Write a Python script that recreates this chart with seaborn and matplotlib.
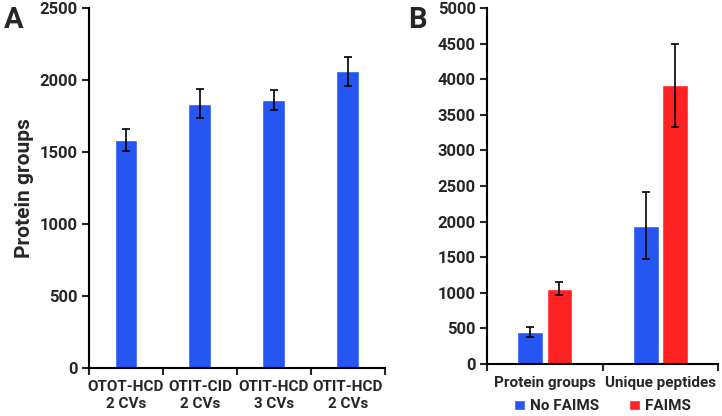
import pandas as pd
import matplotlib.pyplot as plt
import seaborn as sns

# Panel A data
methods = ['OTOT-HCD\n2 CVs', 'OTIT-CID\n2 CVs', 'OTIT-HCD\n3 CVs', 'OTIT-HCD\n2 CVs']
method_groups = [1585, 1835, 1862, 2060]
method_err = [78, 102, 70, 100]

# Panel B data
metrics = ['Protein groups', 'Unique peptides']
conditions = ['No FAIMS', 'FAIMS']
no_faims = [455, 1940]
no_faims_err = [70, 470]
faims = [1060, 3915]
faims_err = [85, 580]

BLUE = '#2656f2'
RED = '#ff2222'

sns.set_style('white')
plt.rcParams['font.family'] = ['Roboto', 'DejaVu Sans']
plt.rcParams['font.weight'] = 'bold'

fig = plt.figure(figsize=(7.22, 4.16), dpi=100)
axA = fig.add_axes([0.1233, 0.1154, 0.4097, 0.8654])
axB = fig.add_axes([0.6745, 0.125, 0.3200, 0.8558])


def style_axis(ax, ncat):
    sns.despine(ax=ax)
    for s in ['left', 'bottom']:
        ax.spines[s].set_linewidth(1.5)
        ax.spines[s].set_color('black')
    ax.set_xlim(-0.5, ncat - 0.5)
    ax.tick_params(axis='y', direction='out', length=5, width=1.5, left=True,
                   labelsize=12, pad=3)
    ax.tick_params(axis='x', which='major', length=0, labelsize=11, pad=9)
    ax.set_xticks([i - 0.5 for i in range(ncat + 1)], minor=True)
    ax.tick_params(axis='x', which='minor', direction='out', length=5,
                   width=1.5, bottom=True)
    for lab in ax.get_xticklabels() + ax.get_yticklabels():
        lab.set_fontweight('bold')
    ax.set_xlabel('')


# Panel A
dfA = pd.DataFrame({'method': methods, 'groups': method_groups})
sns.barplot(data=dfA, x='method', y='groups', color=BLUE, saturation=1,
            width=0.31, errorbar=None, ax=axA)
xs = [p.get_x() + p.get_width() / 2 for p in axA.patches]
axA.errorbar(xs, method_groups, yerr=method_err, fmt='none', ecolor='black',
             elinewidth=1.2, capsize=3, capthick=1.2)
axA.set_ylim(0, 2500)
axA.set_yticks(range(0, 2501, 500))
style_axis(axA, len(methods))
for lab in axA.get_xticklabels():
    lab.set_linespacing(1.2)
axA.set_ylabel('Protein groups', fontsize=15, fontweight='bold', labelpad=4)

# Panel B
dfB = pd.DataFrame({
    'metric': metrics * 2,
    'cond': [conditions[0]] * 2 + [conditions[1]] * 2,
    'value': no_faims + faims,
})
sns.barplot(data=dfB, x='metric', y='value', hue='cond', hue_order=conditions,
            palette=[BLUE, RED], saturation=1, width=0.51, gap=0.12,
            errorbar=None, ax=axB)
errs = no_faims_err + faims_err
vals = no_faims + faims
bars = [p for p in axB.patches if p.get_height() > 0][:4]
xs = [p.get_x() + p.get_width() / 2 for p in bars]
axB.errorbar(xs, vals, yerr=errs, fmt='none', ecolor='black',
             elinewidth=1.2, capsize=3, capthick=1.2)
axB.set_ylim(0, 5000)
axB.set_yticks(range(0, 5001, 500))
style_axis(axB, len(metrics))
axB.set_ylabel('')
axB.tick_params(axis='x', which='major', pad=9)
axB.legend(loc='upper center', bbox_to_anchor=(0.5, -0.082), ncol=2,
           frameon=False, handlelength=0.7, handleheight=0.7,
           handletextpad=0.3, columnspacing=2.0, borderaxespad=0,
           prop={'weight': 'bold', 'size': 11})

fig.text(0.005, 0.985, 'A', fontsize=21, fontweight='bold', va='top')
fig.text(0.565, 0.985, 'B', fontsize=21, fontweight='bold', va='top')

fig.savefig('out.png', dpi=100)
